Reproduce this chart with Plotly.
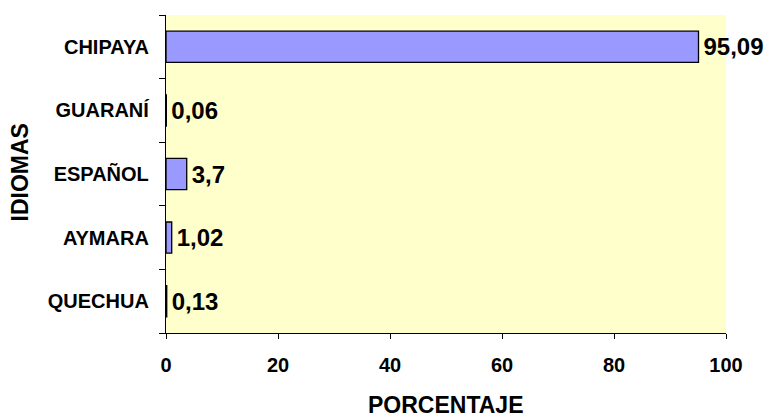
import plotly.graph_objects as go

idiomas = ["QUECHUA", "AYMARA", "ESPAÑOL", "GUARANÍ", "CHIPAYA"]
porcentaje = [0.13, 1.02, 3.7, 0.06, 95.09]
# value labels use a decimal comma, preceded by a hair space for breathing room
etiquetas = ["\u200a" + f"{v:g}".replace(".", ",") for v in porcentaje]
x_ticks = [0, 20, 40, 60, 80, 100]

FONT = "Arial, Liberation Sans, sans-serif"
TITLE_FONT = dict(family=FONT, size=23, color="#000000", weight="bold")

fig = go.Figure(
    go.Bar(
        y=idiomas,
        x=porcentaje,
        orientation="h",
        marker=dict(color="#9999FF", line=dict(color="#000000", width=1.3)),
        text=etiquetas,
        textposition="outside",
        textfont=dict(family=FONT, size=24, color="#000000", weight="bold"),
        cliponaxis=False,
        width=0.49,
    )
)

fig.update_layout(
    width=770,
    height=418,
    margin=dict(l=166, r=44, t=15, b=85),
    paper_bgcolor="#FFFFFF",
    plot_bgcolor="#FFFFCC",
    showlegend=False,
    font=dict(family=FONT, color="#000000"),
    uniformtext=dict(mode=False),
    annotations=[
        dict(
            text="PORCENTAJE", xref="paper", yref="paper",
            x=0.5, y=-0.2264, xanchor="center", yanchor="middle",
            showarrow=False, font=TITLE_FONT,
        ),
        dict(
            text="IDIOMAS", xref="paper", yref="paper",
            x=-0.26, y=0.506, xanchor="center", yanchor="middle",
            textangle=-90, showarrow=False, font=TITLE_FONT,
        ),
    ],
)

fig.update_xaxes(
    range=[0, 100],
    tickvals=x_ticks,
    ticktext=[str(t) for t in x_ticks],
    ticks="outside",
    ticklen=5,
    tickwidth=1.3,
    tickcolor="#000000",
    showline=True,
    linecolor="#000000",
    linewidth=1.3,
    showgrid=False,
    zeroline=False,
    automargin=False,
    tickfont=dict(family=FONT, size=20, color="#000000", weight="bold"),
    ticklabelstandoff=9,
)

fig.update_yaxes(
    categoryorder="array",
    categoryarray=idiomas,
    ticks="outside",
    tickson="boundaries",
    ticklen=6,
    tickwidth=1.3,
    tickcolor="#000000",
    showline=True,
    linecolor="#000000",
    linewidth=1.3,
    showgrid=False,
    zeroline=False,
    automargin=False,
    tickfont=dict(family=FONT, size=20, color="#000000", weight="bold"),
    ticklabelstandoff=12,
)

fig.write_html("out.html")
